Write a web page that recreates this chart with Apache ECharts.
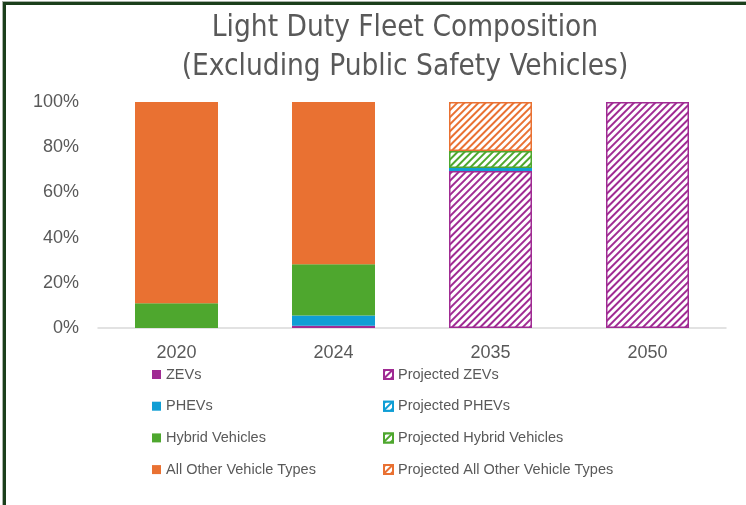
<!DOCTYPE html>
<html>
<head>
<meta charset="utf-8">
<script src="https://cdn.jsdelivr.net/npm/echarts@6/dist/echarts.min.js"></script>
<style>
  html, body { margin: 0; padding: 0; background: #fff; overflow: hidden; }
  #chart { position: absolute; left: 0; top: 0; width: 746px; height: 505px; }
  #frame {
    position: absolute; left: 3px; top: 2px; width: 800px; height: 600px;
    border: 3px solid #1b3f1b; box-shadow: -1px -1px 0 #a9b3a9; pointer-events: none;
  }
</style>
</head>
<body>
<div id="chart"></div>
<div id="frame"></div>
<script>
'use strict'

// categories and values (% of fleet)
const years = ['2020', '2024', '2035', '2050']
const zevs = [0, 1, null, null]
const phevs = [0, 4.5, null, null]
const hybrids = [11, 22.7, null, null]
const others = [89, 71.8, null, null]
const projZevs = [null, null, 69.5, 100]
const projPhevs = [null, null, 1.3, null]
const projHybrids = [null, null, 7.5, null]
const projOthers = [null, null, 21.7, null]
const yTicks = [0, 20, 40, 60, 80, 100]

const purple = '#A02B93'
const blue = '#0F9ED5'
const green = '#4EA72E'
const orange = '#E97132'
const textColor = '#595959'

function solid (name, color, data) {
  return {
    name: name,
    type: 'bar',
    stack: 'total',
    barWidth: 83,
    data: data,
    itemStyle: { color: color }
  }
}

// white fill, coloured outline and "/" stripes
function hatched (name, color, data) {
  return {
    name: name,
    type: 'bar',
    stack: 'total',
    barWidth: 83,
    data: data,
    itemStyle: {
      color: '#fff',
      borderColor: color,
      borderWidth: 1.5,
      decal: {
        color: color,
        backgroundColor: '#fff',
        symbol: 'rect',
        dashArrayX: [1, 0],
        dashArrayY: [1.3, 2.4],
        rotation: -Math.PI / 4
      }
    }
  }
}

const legendText = { fontFamily: 'Liberation Sans', fontSize: 14.5, color: textColor }

const chart = echarts.init(document.getElementById('chart'))
chart.setOption({
  animation: false,
  title: {
    text: 'Light Duty Fleet Composition\n(Excluding Public Safety Vehicles)',
    left: 405,
    top: 9,
    padding: 0,
    textAlign: 'center',
    textStyle: {
      fontFamily: 'DejaVu Sans Condensed',
      fontSize: 29.5,
      fontWeight: 'normal',
      lineHeight: 39,
      color: textColor
    }
  },
  legend: [{
    orient: 'vertical',
    left: 152,
    top: 367,
    padding: 0,
    icon: 'rect',
    itemWidth: 9,
    itemHeight: 9,
    itemGap: 16.7,
    textStyle: legendText,
    data: ['ZEVs', 'PHEVs', 'Hybrid Vehicles', 'All Other Vehicle Types']
  }, {
    orient: 'vertical',
    left: 383,
    top: 367,
    padding: 0,
    icon: 'rect',
    itemWidth: 9,
    itemHeight: 9,
    itemGap: 16.7,
    textStyle: legendText,
    data: ['Projected ZEVs', 'Projected PHEVs', 'Projected Hybrid Vehicles', 'Projected All Other Vehicle Types']
  }],
  grid: { left: 98, right: 20, top: 102, bottom: 177 },
  xAxis: {
    type: 'category',
    data: years,
    axisTick: { show: false },
    axisLine: { lineStyle: { color: '#d9d9d9', width: 1.5 } },
    axisLabel: { margin: 16, fontFamily: 'Liberation Sans', fontSize: 18, color: textColor }
  },
  yAxis: {
    type: 'value',
    min: yTicks[0],
    max: yTicks[yTicks.length - 1],
    interval: 20,
    splitLine: { show: false },
    axisLabel: {
      margin: 19,
      fontFamily: 'Liberation Sans',
      fontSize: 18,
      color: textColor,
      formatter: '{value}%'
    }
  },
  series: [
    solid('ZEVs', purple, zevs),
    solid('PHEVs', blue, phevs),
    solid('Hybrid Vehicles', green, hybrids),
    solid('All Other Vehicle Types', orange, others),
    hatched('Projected ZEVs', purple, projZevs),
    hatched('Projected PHEVs', blue, projPhevs),
    hatched('Projected Hybrid Vehicles', green, projHybrids),
    hatched('Projected All Other Vehicle Types', orange, projOthers)
  ]
})
</script>
</body>
</html>
